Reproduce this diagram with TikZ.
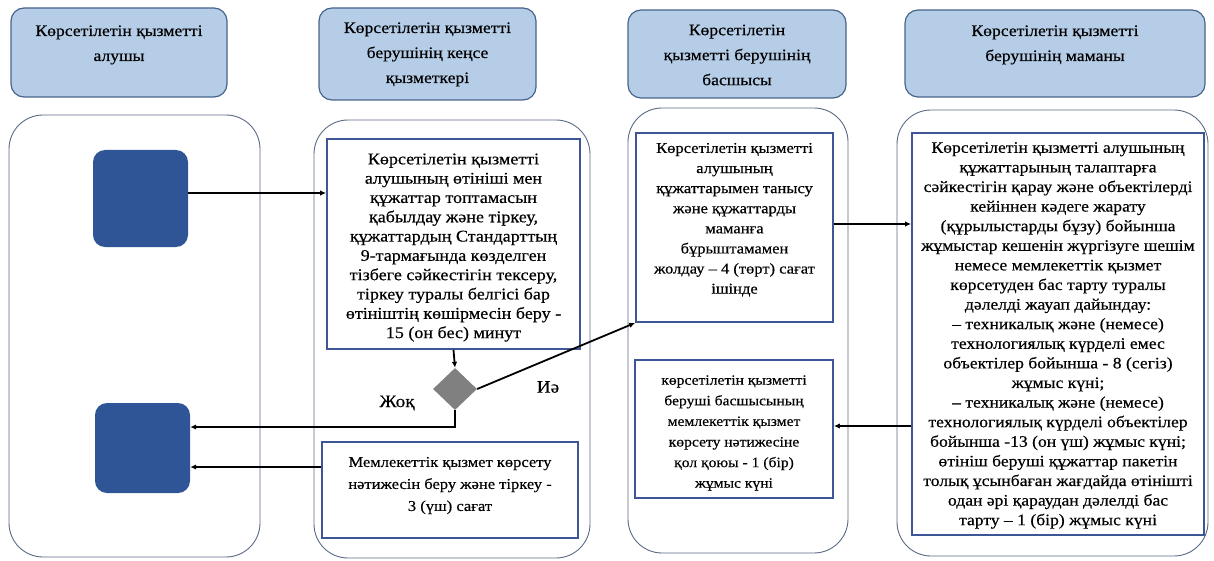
\documentclass[tikz,border=0pt]{standalone}
\usepackage{fontspec}
\setmainfont[FakeStretch=1.1,FakeBold=0.4]{Liberation Serif}
\usetikzlibrary{arrows.meta,shapes.geometric,calc}
\definecolor{hdrfill}{RGB}{182,205,232}
\definecolor{hdrline}{RGB}{72,100,140}
\definecolor{colline}{RGB}{90,106,134}
\definecolor{boxline}{RGB}{62,86,150}
\definecolor{sqfill}{RGB}{47,85,151}
\definecolor{dmfill}{RGB}{128,128,128}
\newcommand\bt[4]{\begin{minipage}[c][#2pt][t]{#1pt}\centering\vspace*{#3pt}#4\par\end{minipage}}
\tikzset{
  lane/.style={draw=colline, line width=0.9pt, rounded corners=34pt, inner sep=0pt},
  hdr/.style={draw=hdrline, fill=hdrfill, line width=1.2pt, rounded corners=13pt, inner sep=0pt, font=\fontsize{16}{25}\selectfont},
  stepbox/.style={draw=boxline, fill=white, line width=1.8pt, inner sep=0pt},
  actor/.style={fill=sqfill, rounded corners=12pt, inner sep=0pt},
  arr/.style={line width=1.8pt, -{Latex[length=6pt,width=5.5pt]}},
  lbl/.style={font=\fontsize{17.5}{19}\selectfont, inner sep=0pt}
}
\begin{document}
\begin{tikzpicture}[x=1pt,y=-1pt]
\useasboundingbox (0,0) rectangle (1214,561);
% lanes
\node[lane, minimum width=251pt, minimum height=442pt] (C1) at (134.5,336) {};
\node[lane, minimum width=276pt, minimum height=438pt] (C2) at (452,339) {};
\node[lane, minimum width=220pt, minimum height=445pt] (C3) at (738,330.5) {};
\node[lane, minimum width=311pt, minimum height=446pt] (C4) at (1052.5,333) {};
% headers
\node[hdr] (H1) at (119,52.5) {\bt{216}{89}{17.4}{Көрсетілетін қызметті\\ алушы}};
\node[hdr] (H2) at (427.5,54) {\bt{217}{92}{14.4}{Көрсетілетін қызметті\\ берушінің кеңсе\\ қызметкері}};
\node[hdr] (H3) at (737,54) {\bt{218}{88}{14.6}{Көрсетілетін\\ қызметті берушінің\\ басшысы}};
\node[hdr] (H4) at (1055,53.5) {\bt{300}{87}{15.4}{Көрсетілетін қызметті\\ берушінің маманы}};
% actor squares
\node[actor, minimum width=95pt, minimum height=97pt] (S1) at (140.5,198.5) {};
\node[actor, minimum width=95pt, minimum height=90pt] (S2) at (142.5,448) {};
% step boxes
\node[stepbox, font=\fontsize{16.4}{19.3}\selectfont] (B1) at (453.5,244) {\bt{253}{210}{14.5}{Көрсетілетін қызметті\\ алушының өтініші мен\\ құжаттар топтамасын\\ қабылдау және тіркеу,\\ құжаттардың Стандарттың\\ 9-тармағында көзделген\\ тізбеге сәйкестігін тексеру,\\ тіркеу туралы белгісі бар\\ өтініштің көшірмесін беру -\\ 15 (он бес) минут}};
\node[diamond, fill=dmfill, minimum width=44pt, minimum height=42pt, inner sep=0pt] (D) at (455,389) {};
\node[stepbox, font=\fontsize{15}{22}\selectfont] (B2) at (450,490) {\bt{256}{96}{15}{Мемлекеттік қызмет көрсету\\ нәтижесін беру және тіркеу -\\ 3 (үш) сағат}};
\node[stepbox, font=\fontsize{15}{20.1}\selectfont] (B3) at (734.5,227.5) {\bt{197}{189}{10}{Көрсетілетін қызметті\\ алушының\\ құжаттарымен танысу\\ және құжаттарды\\ маманға\\ бұрыштамамен\\ жолдау – 4 (төрт) сағат\\ ішінде}};
\node[stepbox, font=\fontsize{14.2}{20.6}\selectfont] (B5) at (734,429) {\bt{198}{138}{15.3}{көрсетілетін қызметті\\ беруші басшысының\\ мемлекеттік қызмет\\ көрсету нәтижесіне\\ қол қоюы - 1 (бір)\\ жұмыс күні}};
\node[stepbox, font=\fontsize{16}{19.6}\selectfont] (B4) at (1058,334) {\bt{292}{402}{9.2}{Көрсетілетін қызметті алушының\\ құжаттарының талаптарға\\ сәйкестігін қарау және объектілерді\\ кейіннен кәдеге жарату\\ (құрылыстарды бұзу) бойынша\\ жұмыстар кешенін жүргізуге шешім\\ немесе мемлекеттік қызмет\\ көрсетуден бас тарту туралы\\ дәлелді жауап дайындау:\\ – техникалық және (немесе)\\ технологиялық күрделі емес\\ объектілер бойынша - 8 (сегіз)\\ жұмыс күні;\\ – техникалық және (немесе)\\ технологиялық күрделі объектілер\\ бойынша -13 (он үш) жұмыс күні;\\ өтініш беруші құжаттар пакетін\\ толық ұсынбаған жағдайда өтінішті\\ одан әрі қараудан дәлелді бас\\ тарту – 1 (бір) жұмыс күні}};
% labels
\node[lbl] (Ln) at (397,403) {Жоқ};
\node[lbl] (Ly) at (548,387) {Иә};
% connector anchor points
\coordinate (p1) at ([yshift=5.5pt]S1.east);
\coordinate (p2) at ([yshift=3.5pt]B3.east);
\coordinate (p3) at ([yshift=3pt]B5.east);
\coordinate (p4) at ([yshift=21pt]S2.east);
\coordinate (p5) at ([yshift=-19pt]S2.east);
% connectors
\draw[arr] (p1) -- (p1 -| B1.west);
\draw[arr] (B1.south) -- (D.north);
\draw[arr] (D.east) -- (B3.south west);
\draw[arr] (p2) -- (p2 -| B4.west);
\draw[arr] (p3 -| B4.west) -- (p3);
\draw[arr] (D.south) |- (p4);
\draw[arr] (p5 -| B2.west) -- (p5);
\end{tikzpicture}
\end{document}
